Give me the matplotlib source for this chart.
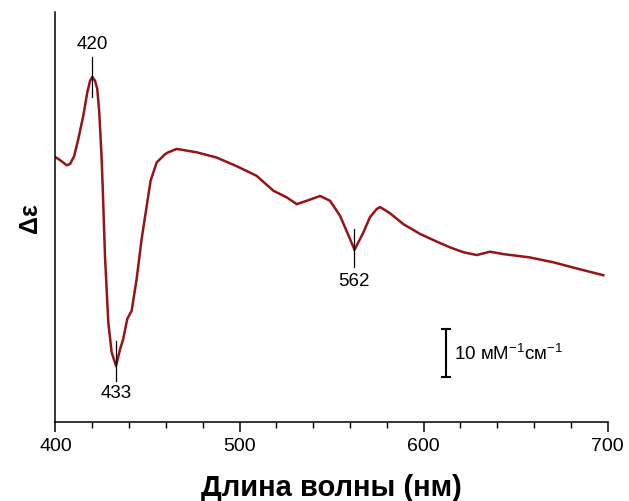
import matplotlib
matplotlib.use("Agg")
import matplotlib.pyplot as plt
from matplotlib.ticker import MultipleLocator

plt.rcParams['font.family'] = ['Liberation Sans', 'DejaVu Sans']

# CD difference spectrum (arbitrary zero, units of mM^-1 cm^-1)
wavelength = [400.3, 402.4, 406.1, 407.9, 410.1, 412.4, 415.1, 417.3, 418.8, 420.0,
              421.5, 422.7, 423.8, 425.1, 425.7, 426.9, 428.7, 430.5, 432.9, 435.1,
              436.8, 439.0, 441.4, 444.1, 446.8, 449.6, 451.7, 455.0, 457.7, 459.5,
              461.3, 465.9, 476.7, 487.6, 498.5, 509.3, 518.4, 525.7, 531.1, 536.5,
              543.8, 549.2, 554.6, 560.1, 562.5, 567.3, 570.9, 574.6, 576.4, 581.8,
              589.0, 598.1, 607.2, 614.4, 621.6, 628.9, 636.1, 643.4, 657.9, 670.5,
              683.3, 697.7]
delta_eps = [55.1, 54.6, 53.5, 53.75, 55.35, 58.95, 63.8, 68.7, 71.1, 71.9,
             71.1, 69.4, 64.5, 54.8, 48.5, 34.6, 20.8, 14.6, 11.7, 15.2,
             17.3, 21.5, 23.2, 29.8, 38.1, 45.1, 50.3, 54.1, 55.1, 55.8,
             56.2, 56.9, 56.2, 55.1, 53.3, 51.3, 48.2, 46.8, 45.4, 46.1,
             47.1, 46.1, 43.0, 38.1, 35.9, 39.5, 42.7, 44.4, 44.8, 43.5,
             41.25, 39.2, 37.6, 36.4, 35.4, 34.8, 35.5, 35.0, 34.3, 33.3,
             32.0, 30.6]

peak_labels = ['420', '433', '562']
peak_x = [420, 433, 562]
peak_line = [(67.7, 76.0), (8.5, 16.9), (32.3, 40.2)]
peak_text_y = [78.8, 6.2, 29.4]

fig = plt.figure(figsize=(6.29, 5.02), dpi=100)
ax = fig.add_axes([0.0882, 0.157, 0.8777, 0.817])

ax.plot(wavelength, delta_eps, color='#961414', linewidth=1.8)

for lab, x, (y0, y1), ty in zip(peak_labels, peak_x, peak_line, peak_text_y):
    ax.plot([x, x], [y0, y1], color='black', linewidth=0.9)
    ax.text(x, ty, lab, ha='center', va='center', fontsize=13.5)

# scale bar: 10 mM^-1 cm^-1
ax.plot([612.3, 612.3], [9.4, 19.4], color='black', linewidth=1.5)
ax.plot([610.2, 614.4], [19.4, 19.4], color='black', linewidth=1.5)
ax.plot([610.2, 614.4], [9.4, 9.4], color='black', linewidth=1.5)
ax.text(616.5, 14.4, r'10 мМ$^{\mathregular{-1}}$см$^{\mathregular{-1}}$',
        ha='left', va='center', fontsize=13.5)

ax.set_xlim(400, 700)
ax.set_ylim(0, 85.4)
ax.spines['top'].set_visible(False)
ax.spines['right'].set_visible(False)
ax.spines['left'].set_linewidth(1.1)
ax.spines['bottom'].set_linewidth(1.1)
ax.set_yticks([])
ax.xaxis.set_major_locator(MultipleLocator(100))
ax.xaxis.set_minor_locator(MultipleLocator(20))
ax.tick_params(axis='x', which='major', direction='out', length=7, width=1.1, labelsize=14)
ax.tick_params(axis='x', which='minor', direction='out', length=4, width=1.0)

ax.set_xlabel('Длина волны (нм)', fontsize=21, fontweight='bold', labelpad=14)
ax.set_ylabel('Δε', fontsize=18, fontweight='bold', labelpad=10)

plt.savefig('out.png', dpi=100)
